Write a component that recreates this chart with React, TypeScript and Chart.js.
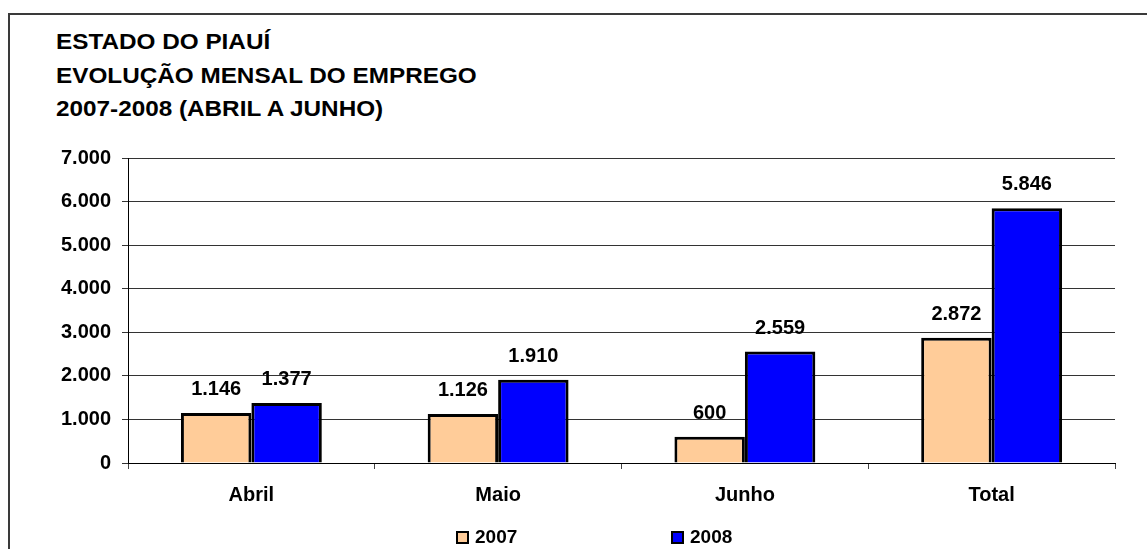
import React, { useEffect, useRef } from "react";
import { Chart, registerables } from "chart.js";

Chart.register(...registerables);

const titleLines = ["ESTADO DO PIAUÍ", "EVOLUÇÃO MENSAL DO EMPREGO", "2007-2008 (ABRIL A JUNHO)"];
const categories = ["Abril", "Maio", "Junho", "Total"];
const seriesNames = ["2007", "2008"];
const values2007 = [1146, 1126, 600, 2872];
const values2008 = [1377, 1910, 2559, 5846];
const yMin = 0;
const yMax = 7000;
const yStep = 1000;

const colors = ["#FFCC99", "#0000FF"];
const FONT = '"Liberation Sans", Arial, Helvetica, sans-serif';

const fmt = (n: number) => String(n).replace(/\B(?=(\d{3})+(?!\d))/g, ".");

const dataLabelPlugin = {
  id: "dataLabels",
  afterDatasetsDraw(chart: any) {
    const ctx = chart.ctx;
    ctx.save();
    ctx.font = `bold 20px ${FONT}`;
    ctx.fillStyle = "#000";
    ctx.textAlign = "center";
    ctx.textBaseline = "alphabetic";
    chart.data.datasets.forEach((ds: any, i: number) => {
      const meta = chart.getDatasetMeta(i);
      meta.data.forEach((el: any, j: number) => {
        ctx.fillText(fmt(ds.data[j]), el.x, el.y - 18);
      });
    });
    ctx.restore();
  },
};

export default function App() {
  const canvasRef = useRef<HTMLCanvasElement | null>(null);

  useEffect(() => {
    if (!canvasRef.current) return;
    const chart = new Chart(canvasRef.current, {
      type: "bar",
      data: {
        labels: categories,
        datasets: [
          {
            label: seriesNames[0],
            data: values2007,
            backgroundColor: colors[0],
            borderColor: "#000",
            borderWidth: 3,
            categoryPercentage: 0.571,
            barPercentage: 1.0,
          },
          {
            label: seriesNames[1],
            data: values2008,
            backgroundColor: colors[1],
            borderColor: "#000",
            borderWidth: 3,
            categoryPercentage: 0.571,
            barPercentage: 1.0,
          },
        ],
      },
      options: {
        animation: false,
        responsive: true,
        maintainAspectRatio: false,
        layout: { padding: { left: 57, right: 32, top: 158, bottom: 0 } },
        plugins: {
          legend: { display: false },
          title: { display: false },
          tooltip: { enabled: false },
        },
        scales: {
          x: {
            offset: true,
            grid: {
              display: true,
              offset: true,
              drawOnChartArea: false,
              drawTicks: true,
              tickLength: 6,
              color: "#444",
            },
            border: { display: true, color: "#000", width: 1 },
            ticks: {
              color: "#000",
              font: { family: FONT, size: 20, weight: "bold" },
              padding: 14,
              maxRotation: 0,
            },
            afterFit(scale: any) {
              scale.height = 86;
            },
          },
          y: {
            min: yMin,
            max: yMax,
            grid: {
              color: "#333",
              drawTicks: true,
              tickLength: 6,
              lineWidth: 1,
            },
            border: { display: true, color: "#000", width: 1 },
            ticks: {
              stepSize: yStep,
              color: "#000",
              padding: 11,
              font: { family: FONT, size: 20, weight: "bold" },
              callback: (v: any) => fmt(Number(v)),
            },
            afterFit(scale: any) {
              scale.width = 71;
            },
          },
        },
      },
      plugins: [dataLabelPlugin],
    });
    return () => chart.destroy();
  }, []);

  return (
    <div
      style={{
        position: "fixed",
        left: 0,
        top: 0,
        width: 1147,
        height: 549,
        overflow: "hidden",
        background: "#fff",
        fontFamily: FONT,
      }}
    >
      <div
        style={{
          position: "absolute",
          left: 8,
          top: 13,
          width: 2000,
          height: 2000,
          borderTop: "2px solid #3a3a3a",
          borderLeft: "2px solid #3a3a3a",
        }}
      />
      <div
        style={{
          position: "absolute",
          left: 56,
          top: 26,
          fontSize: 21.5,
          fontWeight: "bold",
          lineHeight: "33.5px",
          color: "#000",
          transform: "scaleX(1.13)",
          transformOrigin: "left top",
          whiteSpace: "nowrap",
        }}
      >
        {titleLines.map((t) => (
          <div key={t}>{t}</div>
        ))}
      </div>
      <div style={{ position: "absolute", left: 0, top: 0, width: 1147, height: 549 }}>
        <canvas ref={canvasRef} />
      </div>
      {seriesNames.map((name, i) => (
        <div
          key={name}
          style={{
            position: "absolute",
            left: i === 0 ? 456 : 671,
            top: 527,
            height: 20,
            display: "flex",
            alignItems: "center",
            fontSize: 19,
            fontWeight: "bold",
            color: "#000",
            whiteSpace: "nowrap",
          }}
        >
          <span
            style={{
              display: "inline-block",
              width: 13,
              height: 13,
              boxSizing: "border-box",
              border: "2px solid #000",
              background: colors[i],
              marginRight: 6,
            }}
          />
          <span>{name}</span>
        </div>
      ))}
    </div>
  );
}
